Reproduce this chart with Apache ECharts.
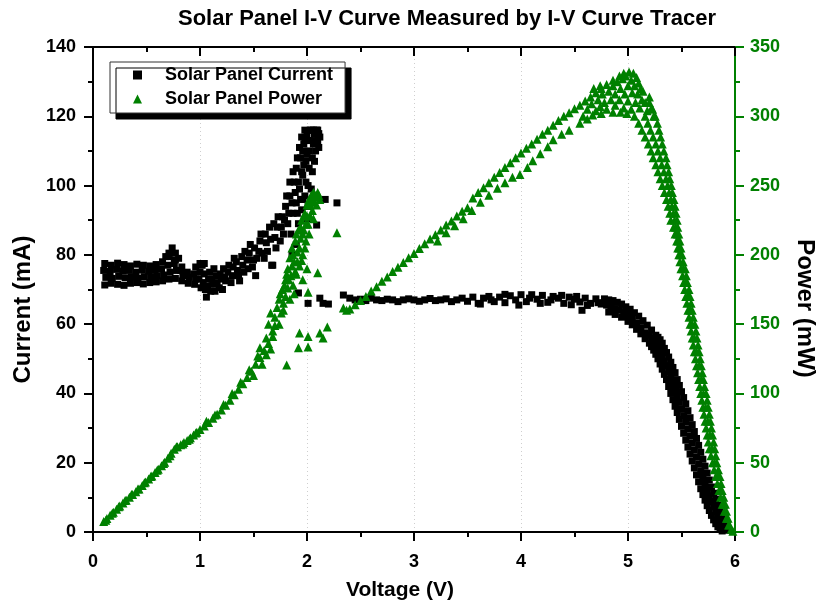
<!DOCTYPE html>
<html>
<head>
<meta charset="utf-8">
<title>Solar Panel I-V Curve</title>
<script src="https://cdn.jsdelivr.net/npm/echarts@6/dist/echarts.min.js"></script>
<style>
  html, body { margin: 0; padding: 0; background: #fff; }
  #ivChart { width: 820px; height: 610px; }
</style>
</head>
<body>
<div id="ivChart"></div>
<script>
// 电流 [电压 V, 电流 mA]
var currentLow = [
  [0.11, 77.5], [0.17, 77], [0.23, 77.6], [0.29, 77.2], [0.35, 76.8], [0.41, 77.3], [0.47, 77], [0.53, 76.8], [0.59, 77.2], [0.65, 78], [0.71, 79.5], [0.77, 78.5], [0.83, 76.5],
  [0.10, 75.5], [0.16, 75.2], [0.22, 75.8], [0.28, 75.4], [0.34, 75.5], [0.40, 75], [0.46, 75.6], [0.52, 75.3], [0.58, 75.5], [0.64, 76], [0.70, 77], [0.76, 77.5], [0.82, 75.5], [0.88, 75], [0.94, 74.5],
  [0.12, 73.5], [0.18, 73.2], [0.24, 73.8], [0.30, 73.4], [0.36, 73.6], [0.42, 73.3], [0.48, 73.7], [0.54, 73.5], [0.60, 74], [0.66, 74.2], [0.72, 75], [0.78, 75.5], [0.84, 74], [0.90, 73.5], [0.96, 73],
  [0.11, 71.3], [0.17, 71.8], [0.23, 71.5], [0.29, 71.2], [0.35, 71.8], [0.41, 72], [0.47, 71.6], [0.53, 72], [0.59, 72.2], [0.65, 72.5], [0.71, 73], [0.77, 73.2], [0.83, 72.5], [0.89, 71.8], [0.95, 71.5],
  [0.74, 82], [0.71, 80.5], [0.77, 80.5], [0.68, 79.5], [0.80, 79]
];
var currentDip = [
  [1.00, 75], [1.02, 77], [1.03, 72], [1.05, 70], [1.08, 73], [1.10, 69.5], [1.12, 71.5], [1.13, 76],
  [1.15, 74], [1.18, 70.5], [1.20, 73], [1.22, 76], [1.06, 67.8], [0.96, 76.5],
  [0.99, 73], [1.01, 70.5], [1.04, 74.5], [1.07, 71], [1.09, 75], [1.11, 73], [1.14, 69.5], [1.16, 72],
  [1.19, 74.5], [1.21, 70], [1.23, 73.5], [1.00, 77.5], [1.04, 77.5]
];
var currentRise = [
  [1.24, 72.5], [1.27, 77], [1.30, 74], [1.32, 79], [1.35, 75.5], [1.37, 72.5], [1.40, 77], [1.42, 81], [1.45, 76], [1.47, 83],
  [1.50, 78.5], [1.52, 74], [1.55, 81], [1.57, 86], [1.60, 79], [1.62, 83.5], [1.65, 88], [1.67, 77], [1.70, 85],
  [1.26, 75], [1.29, 72], [1.31, 76.5], [1.34, 78], [1.36, 74], [1.39, 79.5], [1.41, 75], [1.44, 78.5], [1.46, 80.5], [1.49, 76.5],
  [1.51, 82], [1.53, 79], [1.56, 84], [1.58, 80.5], [1.61, 86], [1.63, 81], [1.66, 84.5], [1.69, 89], [1.71, 82]
];
var currentPeak = [
  [1.72, 88], [1.75, 84], [1.77, 91], [1.78, 86], [1.80, 94], [1.82, 89], [1.84, 97], [1.85, 86], [1.87, 92], [1.88, 101],
  [1.90, 95], [1.90, 105], [1.92, 89], [1.93, 99], [1.94, 108], [1.95, 93], [1.96, 103], [1.97, 112], [1.98, 97], [1.99, 107],
  [2.00, 115], [2.01, 100], [2.02, 110], [2.03, 113], [2.04, 116], [2.05, 104], [2.06, 112], [2.07, 115], [2.08, 110], [2.09, 116],
  [2.10, 113], [2.11, 115], [1.95, 114], [1.98, 116], [2.00, 90.5], [2.03, 95], [1.86, 80], [1.90, 83], [2.04, 99],
  [1.73, 91], [1.76, 88], [1.79, 90], [1.81, 97], [1.83, 92], [1.84, 101], [1.86, 95], [1.87, 104], [1.89, 98], [1.91, 108],
  [1.92, 101], [1.93, 111], [1.94, 96], [1.95, 104], [1.96, 110], [1.97, 106], [1.98, 113], [1.99, 101], [2.00, 109], [2.01, 113],
  [2.02, 105], [2.03, 116], [2.05, 108], [2.06, 116], [2.07, 107], [2.08, 113], [2.10, 116], [2.11, 111], [2.12, 114], [1.91, 92],
  [1.96, 96], [2.01, 94]
];
var currentStray = [
  [2.09, 88.6], [2.17, 96], [2.28, 95], [1.68, 77], [1.92, 69], [2.01, 66], [2.12, 67.5], [2.15, 66], [2.20, 65.8], [2.34, 68.4]
];
var currentFlat = [
  [2.40, 67.5], [2.45, 67], [2.50, 67.2], [2.55, 66.8], [2.60, 67.5], [2.65, 67], [2.70, 66.8], [2.75, 67.2], [2.80, 67], [2.85, 66.5],
  [2.90, 67], [2.95, 67.3], [3.00, 67], [3.05, 66.6], [3.10, 67], [3.15, 67.4], [3.20, 66.8], [3.25, 67], [3.30, 67.3], [3.35, 66.5],
  [3.40, 67], [3.45, 67.5], [3.50, 66.6], [3.55, 67.8], [3.60, 66], [3.65, 67.5], [3.70, 68], [3.75, 66.5], [3.80, 67.8], [3.85, 66.2],
  [3.90, 68.2], [3.95, 67], [4.00, 68.5], [4.05, 66.5], [4.10, 68.5], [4.15, 67.2], [4.20, 68.3], [4.25, 66.3], [4.30, 68], [4.35, 67.5],
  [4.40, 66], [4.45, 67.8], [4.50, 67.2], [4.55, 66.4], [4.60, 67.5], [4.65, 66], [4.70, 67.3], [4.75, 65.8],
  [3.62, 65.8], [3.72, 67], [3.85, 68.6], [3.98, 65.5], [4.08, 67.5], [4.18, 66], [4.28, 67], [4.38, 68.3], [4.47, 65.6], [4.52, 68],
  [4.57, 64], [4.62, 65.4], [4.72, 66.2]
];
var currentKnee = [
  [4.78, 67.3], [4.82, 67], [4.86, 66.8], [4.90, 66.3], [4.94, 65.8], [4.98, 65], [5.02, 64.3], [5.06, 63.3], [5.10, 62.3], [5.14, 61],
  [5.18, 59.7], [5.22, 58.3], [5.26, 56.8], [5.28, 56.2],
  [4.80, 65.5], [4.84, 65], [4.88, 64.5], [4.92, 64], [4.96, 63.3], [5.00, 62.5], [5.04, 61.5], [5.08, 60.3], [5.12, 59], [5.16, 57.5],
  [4.82, 63.5], [4.88, 62.8], [4.94, 62], [5.00, 60.8], [5.04, 59.8], [5.08, 58.5], [5.12, 57.2], [5.16, 55.8], [5.20, 54.5]
];
var currentDropUpper = [
  [5.30, 55.5], [5.32, 54.5], [5.34, 53], [5.36, 51.8], [5.38, 50.5], [5.40, 49], [5.42, 47.5], [5.44, 46], [5.46, 44], [5.48, 42.3],
  [5.50, 40.5], [5.52, 38.8], [5.54, 37], [5.56, 35], [5.58, 33], [5.60, 31], [5.62, 29], [5.64, 27], [5.66, 25], [5.68, 23],
  [5.70, 21], [5.72, 19], [5.74, 17], [5.76, 15], [5.78, 13], [5.80, 11.2], [5.82, 9.5], [5.84, 7.7], [5.86, 6], [5.88, 4.5],
  [5.90, 3], [5.92, 1.7], [5.94, 0.5]
];
var currentDropMid = [
  [5.20, 56.8], [5.22, 55.9], [5.24, 55], [5.26, 54], [5.28, 53], [5.30, 51.8], [5.32, 50.7], [5.34, 49.3], [5.36, 48], [5.38, 46.3],
  [5.40, 44.5], [5.42, 42.8], [5.44, 41], [5.46, 39.3], [5.48, 37.4], [5.50, 35.5], [5.52, 33.6], [5.54, 31.7], [5.56, 29.7], [5.58, 27.7],
  [5.60, 25.7], [5.62, 23.7], [5.64, 21.7], [5.66, 19.7], [5.68, 17.7], [5.70, 15.8], [5.72, 14], [5.74, 12.2], [5.76, 10.4], [5.78, 8.8],
  [5.80, 7.3], [5.82, 5.8], [5.84, 4.5], [5.86, 3.2], [5.88, 2], [5.90, 1]
];
var currentDropLower = [
  [5.22, 53.5], [5.24, 52.5], [5.26, 51.3], [5.28, 50], [5.30, 48.5], [5.32, 47], [5.34, 45.5], [5.36, 44], [5.38, 42], [5.40, 40],
  [5.42, 38.2], [5.44, 36.3], [5.46, 34.5], [5.48, 32.5], [5.50, 30.5], [5.52, 28.5], [5.54, 26.5], [5.56, 24.5], [5.58, 22.5], [5.60, 20.5],
  [5.62, 18.5], [5.64, 16.5], [5.66, 14.5], [5.68, 12.5], [5.70, 10.8], [5.72, 9.2], [5.74, 7.6], [5.76, 6.2], [5.78, 4.8], [5.80, 3.5],
  [5.82, 2.4], [5.84, 1.5], [5.86, 0.8], [5.88, 0.3]
];

// 功率 [电压 V, 功率 mW]
var powerLow = [
  [0.10, 7.5], [0.13, 9.8], [0.16, 12], [0.19, 14.3], [0.22, 16.5], [0.25, 18.8], [0.28, 21], [0.31, 23], [0.34, 25], [0.37, 27],
  [0.40, 29], [0.43, 31], [0.46, 33.5], [0.49, 36], [0.52, 38.3], [0.55, 40.5], [0.58, 43], [0.61, 45.3], [0.64, 47.8], [0.67, 50.3],
  [0.70, 53.3], [0.73, 56.8], [0.76, 59.8], [0.79, 61.5], [0.82, 63], [0.85, 64.5], [0.88, 66], [0.91, 68], [0.94, 70], [0.97, 72], [1.00, 74],
  [0.12, 8.5], [0.18, 13.5], [0.24, 18.3], [0.30, 22.7], [0.36, 27], [0.42, 31], [0.48, 35.5], [0.54, 40], [0.60, 44.5], [0.66, 49.5],
  [0.72, 55], [0.78, 61.5], [0.84, 63.5], [0.90, 67], [0.96, 71.5]
];
var powerRise = [
  [1.04, 76.5], [1.08, 79], [1.12, 82], [1.16, 85], [1.20, 88], [1.24, 91.5], [1.28, 95], [1.32, 99], [1.36, 103], [1.40, 107],
  [1.44, 111.5], [1.48, 116], [1.52, 121], [1.56, 126], [1.60, 131], [1.64, 136], [1.68, 141],
  [1.06, 80], [1.14, 84.5], [1.22, 92], [1.30, 100], [1.38, 108], [1.46, 117], [1.50, 113], [1.54, 127], [1.58, 121], [1.62, 140],
  [1.66, 132], [1.70, 149], [1.56, 133], [1.62, 128], [1.64, 150], [1.66, 158], [1.68, 145]
];
var powerPeak = [
  [1.70, 155], [1.72, 162], [1.74, 150], [1.74, 168], [1.76, 158], [1.77, 175], [1.78, 165], [1.80, 182], [1.80, 170], [1.82, 190],
  [1.82, 176], [1.84, 198], [1.84, 168], [1.85, 185], [1.86, 205], [1.87, 178], [1.88, 195], [1.89, 210], [1.90, 186], [1.91, 202],
  [1.92, 218], [1.93, 192], [1.94, 212], [1.95, 225], [1.96, 200], [1.97, 218], [1.98, 230], [1.99, 210], [2.00, 236], [2.01, 222],
  [2.02, 240], [2.03, 228], [2.04, 243], [2.05, 232], [2.06, 245], [2.07, 238], [2.08, 242], [2.10, 245], [2.12, 240], [1.96, 182],
  [2.00, 190], [1.88, 172], [1.78, 160],
  [1.75, 172], [1.79, 178], [1.81, 186], [1.83, 182], [1.86, 192], [1.87, 200], [1.89, 188], [1.90, 215], [1.91, 195], [1.93, 205],
  [1.94, 220], [1.95, 196], [1.96, 215], [1.97, 228], [1.98, 205], [1.99, 222], [2.00, 228], [2.01, 238], [2.02, 215], [2.03, 236],
  [2.05, 240], [2.06, 226], [2.07, 244], [2.09, 236], [2.11, 243]
];
var powerStray = [
  [1.81, 120.5], [1.93, 143.6], [1.92, 133], [2.01, 133.5], [2.01, 141], [2.12, 143.6], [2.15, 140], [2.19, 148], [2.10, 187], [2.01, 173],
  [2.28, 216], [2.34, 161.6], [2.37, 160]
];
var powerFlat = [
  [2.40, 161], [2.45, 164], [2.50, 167], [2.55, 170], [2.60, 174], [2.65, 177], [2.70, 181], [2.75, 184], [2.80, 188], [2.85, 191],
  [2.90, 194.5], [2.95, 198], [3.00, 201], [3.05, 204.5], [3.10, 208], [3.15, 211.5], [3.20, 214.5], [3.25, 218], [3.30, 221.5], [3.35, 224.5],
  [3.40, 228], [3.45, 231.5], [3.50, 234],
  [3.22, 210], [3.30, 216], [3.38, 221], [3.46, 226], [3.54, 232]
];
var powerUpper = [
  [3.55, 241], [3.60, 245], [3.65, 248.5], [3.70, 252], [3.75, 256], [3.80, 259.5], [3.85, 263], [3.90, 266.5], [3.95, 270], [4.00, 273.5],
  [4.05, 277], [4.10, 280], [4.15, 283.5], [4.20, 287], [4.25, 290], [4.30, 293.5], [4.35, 297], [4.40, 300], [4.45, 302.5], [4.50, 305.5],
  [4.55, 308], [4.60, 311], [4.65, 314], [4.70, 317], [4.75, 320], [4.80, 323]
];
var powerLower = [
  [3.62, 238], [3.70, 243], [3.78, 248], [3.85, 252], [3.92, 256], [3.99, 258], [4.06, 263], [4.11, 268], [4.18, 273], [4.25, 278],
  [4.30, 283], [4.38, 287], [4.45, 290], [4.55, 295], [4.62, 298], [4.67, 301], [4.75, 302], [4.86, 303], [4.93, 303], [4.99, 302]
];
var powerCap = [
  [4.62, 305], [4.66, 309], [4.70, 304], [4.72, 312], [4.74, 307], [4.76, 316], [4.78, 310], [4.80, 305], [4.82, 318], [4.84, 312],
  [4.86, 322], [4.88, 308], [4.88, 316], [4.90, 325], [4.92, 312], [4.93, 320], [4.95, 327], [4.96, 306], [4.97, 316], [4.98, 329],
  [5.00, 322], [5.00, 311], [5.01, 332], [5.03, 326], [5.03, 305], [5.04, 317], [5.05, 331], [5.06, 322], [5.07, 310], [5.08, 328],
  [5.09, 316], [5.10, 324], [5.11, 306], [5.12, 320], [5.13, 312], [5.14, 318], [5.16, 310], [5.18, 304], [5.20, 314], [5.22, 306],
  [5.24, 300], [4.58, 300], [4.68, 320], [4.74, 322], [4.86, 326], [4.92, 329], [4.96, 331]
];
var powerDropLeft = [
  [5.06, 300], [5.10, 295], [5.13, 290], [5.16, 285], [5.19, 280], [5.215, 275], [5.235, 270], [5.26, 265], [5.28, 260], [5.30, 255],
  [5.32, 250], [5.34, 245], [5.36, 240], [5.375, 235], [5.39, 230], [5.40, 225], [5.425, 220], [5.44, 215], [5.455, 210], [5.465, 205],
  [5.475, 200], [5.485, 195], [5.495, 190], [5.51, 185], [5.52, 180], [5.53, 175], [5.54, 170], [5.55, 165], [5.56, 160], [5.57, 155],
  [5.58, 150], [5.59, 145], [5.60, 140], [5.61, 135], [5.62, 130], [5.63, 125], [5.64, 120], [5.65, 115], [5.66, 110], [5.67, 105],
  [5.68, 100], [5.69, 95], [5.70, 90], [5.71, 85], [5.72, 80], [5.73, 75], [5.74, 70], [5.75, 65], [5.76, 60], [5.775, 55],
  [5.79, 50], [5.805, 45], [5.82, 40], [5.835, 35], [5.85, 30], [5.865, 25], [5.88, 20], [5.90, 15], [5.92, 10], [5.94, 5]
];
var powerDropRight = [
  [5.20, 310], [5.23, 305], [5.255, 300], [5.275, 295], [5.29, 290], [5.305, 285], [5.32, 280], [5.335, 275], [5.355, 270], [5.365, 265],
  [5.38, 260], [5.39, 255], [5.405, 250], [5.415, 245], [5.43, 240], [5.44, 235], [5.45, 230], [5.46, 225], [5.465, 220], [5.475, 215],
  [5.485, 210], [5.495, 205], [5.505, 200], [5.515, 195], [5.535, 190], [5.545, 185], [5.555, 180], [5.57, 175], [5.58, 170], [5.59, 165],
  [5.60, 160], [5.61, 155], [5.625, 150], [5.635, 145], [5.645, 140], [5.655, 135], [5.665, 130], [5.675, 125], [5.685, 120], [5.695, 115],
  [5.705, 110], [5.715, 105], [5.73, 100], [5.74, 95], [5.75, 90], [5.76, 85], [5.77, 80], [5.78, 75], [5.79, 70], [5.80, 65],
  [5.81, 60], [5.82, 55], [5.83, 50], [5.845, 45], [5.86, 40], [5.87, 35], [5.88, 30], [5.895, 25], [5.91, 20], [5.92, 15],
  [5.935, 10], [5.95, 5], [5.965, 2], [5.98, 0.5]
];
var powerDropMid = [
  [5.16, 300], [5.185, 295], [5.21, 290], [5.235, 285], [5.26, 280], [5.28, 275], [5.30, 270], [5.315, 265], [5.335, 260], [5.355, 255],
  [5.37, 250], [5.385, 245], [5.40, 240], [5.41, 235], [5.425, 230], [5.435, 225], [5.445, 220], [5.46, 215], [5.47, 210], [5.48, 205],
  [5.49, 200], [5.515, 190], [5.54, 180], [5.56, 170], [5.58, 160], [5.60, 150], [5.62, 140], [5.64, 130], [5.665, 120], [5.685, 110],
  [5.705, 100], [5.725, 90], [5.745, 80], [5.765, 70], [5.785, 60], [5.81, 50], [5.84, 40], [5.865, 30], [5.895, 20], [5.925, 10]
];

var voltageRange = [0, 6];
var currentRange = [0, 140];
var powerRange = [0, 350];

(function(window, undefined) {
  var FONT = '"Liberation Sans", Arial, Helvetica, sans-serif',
    GREEN = '#008000';

  fnInitChart();

  function fnInitChart() {
    var chart = echarts.init(document.getElementById('ivChart'), null, { renderer: 'canvas' });

    var currentData = [].concat(currentLow, currentDip, currentRise, currentPeak, currentStray,
      currentFlat, currentKnee, currentDropUpper, currentDropMid, currentDropLower);
    var powerData = [].concat(powerLow, powerRise, powerPeak, powerStray, powerFlat, powerUpper,
      powerLower, powerCap, powerDropLeft, powerDropRight, powerDropMid);

    var boldText = function(size, color) {
      return { fontFamily: FONT, fontWeight: 'bold', fontSize: size, color: color || '#000' };
    };

    chart.setOption({
      backgroundColor: '#fff',
      animation: false,
      textStyle: { fontFamily: FONT },
      title: {
        text: 'Solar Panel I-V Curve Measured by I-V Curve Tracer',
        left: 178,
        top: 8,
        padding: 0,
        textStyle: boldText(22),
      },
      legend: {
        orient: 'vertical',
        left: 110,
        top: 62,
        padding: [4, 12, 5, 23],
        itemGap: 6,
        itemWidth: 9,
        itemHeight: 9,
        backgroundColor: '#fff',
        borderColor: '#333',
        borderWidth: 1,
        shadowColor: '#000',
        shadowBlur: 0,
        shadowOffsetX: 6,
        shadowOffsetY: 6,
        textStyle: { fontFamily: FONT, fontWeight: 'bold', fontSize: 18, color: '#000', padding: [0, 0, 0, 18] },
        data: ['Solar Panel Current', 'Solar Panel Power'],
      },
      // 固定绘图区，不让轴名挤压网格
      grid: { left: 93, right: 85, top: 47, bottom: 78, outerBoundsMode: 'none', containLabel: false },
      xAxis: [
        {
          type: 'value',
          min: voltageRange[0],
          max: voltageRange[1],
          interval: 1,
          name: 'Voltage (V)',
          nameLocation: 'middle',
          nameGap: 48,
          nameTextStyle: Object.assign(boldText(21), { padding: [0, 28, 0, 0] }),
          axisLine: { onZero: false, lineStyle: { color: '#000', width: 2 } },
          axisTick: { inside: false, length: 9, lineStyle: { color: '#000', width: 2 } },
          minorTick: { show: true, splitNumber: 2, length: 5, lineStyle: { color: '#000', width: 2 } },
          axisLabel: Object.assign(boldText(18), { margin: 21 }),
          splitLine: { show: true, lineStyle: { color: '#cfcfcf', type: [1, 3], width: 1 } },
        },
        {
          type: 'value',
          position: 'top',
          min: voltageRange[0],
          max: voltageRange[1],
          interval: 1,
          axisLine: { onZero: false, lineStyle: { color: '#000', width: 2 } },
          axisTick: { inside: true, length: 9, lineStyle: { color: '#000', width: 2 } },
          minorTick: { show: true, splitNumber: 2, length: 5, lineStyle: { color: '#000', width: 2 } },
          axisLabel: { show: false },
          splitLine: { show: false },
        },
      ],
      yAxis: [
        {
          type: 'value',
          position: 'left',
          min: currentRange[0],
          max: currentRange[1],
          interval: 20,
          name: 'Current (mA)',
          nameLocation: 'middle',
          nameRotate: 90,
          nameGap: 52,
          nameTextStyle: Object.assign(boldText(24), { padding: [0, 40, 0, 0] }),
          axisLine: { show: true, onZero: false, lineStyle: { color: '#000', width: 2 } },
          axisTick: { show: true, length: 9, lineStyle: { color: '#000', width: 2 } },
          minorTick: { show: true, splitNumber: 2, length: 5, lineStyle: { color: '#000', width: 2 } },
          axisLabel: Object.assign(boldText(18), { margin: 17 }),
          splitLine: { show: false },
        },
        {
          type: 'value',
          position: 'right',
          min: powerRange[0],
          max: powerRange[1],
          interval: 50,
          name: 'Power (mW)',
          nameLocation: 'middle',
          nameRotate: -90,
          nameGap: 58,
          nameTextStyle: Object.assign(boldText(24), { padding: [0, 0, 0, 38] }),
          axisLine: { show: true, onZero: false, lineStyle: { color: GREEN, width: 2 } },
          axisTick: { show: true, length: 9, lineStyle: { color: GREEN, width: 2 } },
          minorTick: { show: true, splitNumber: 2, length: 5, lineStyle: { color: GREEN, width: 2 } },
          axisLabel: Object.assign(boldText(18, GREEN), { margin: 15 }),
          splitLine: { show: false },
        },
      ],
      series: [
        {
          name: 'Solar Panel Current',
          type: 'scatter',
          xAxisIndex: 0,
          yAxisIndex: 0,
          symbol: 'rect',
          symbolSize: 7,
          itemStyle: { color: '#000', opacity: 1 },
          data: currentData,
        },
        {
          name: 'Solar Panel Power',
          type: 'scatter',
          xAxisIndex: 0,
          yAxisIndex: 1,
          symbol: 'triangle',
          symbolSize: 9,
          itemStyle: { color: GREEN, opacity: 1 },
          data: powerData,
        },
      ],
    });
  }
})(window);
</script>
</body>
</html>
